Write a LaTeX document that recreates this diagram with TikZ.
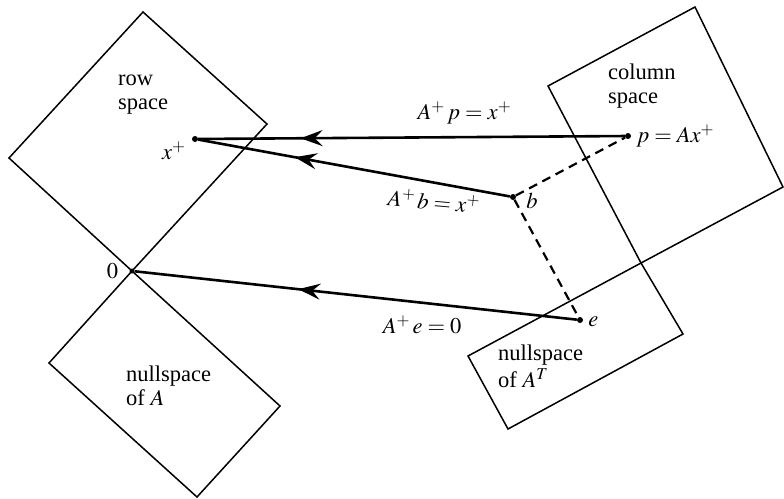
\documentclass[tikz,border=0pt]{standalone}
\usepackage{mathptmx}
\usepackage{fontspec}
\setmainfont{Liberation Serif}
\usetikzlibrary{arrows.meta,decorations.markings,positioning}
\tikzset{
  plane/.style={line width=1.5pt,line join=miter},
  mapline/.style={line width=2.6pt,postaction={decorate},
    decoration={markings,mark=at position #1 with {\arrow{Stealth[length=22pt,width=16pt,inset=8pt]}}}},
  perpline/.style={line width=2.2pt,dash pattern=on 9pt off 6pt},
  spot/.style={circle,fill,inner sep=0pt,minimum size=6pt},
  spacelabel/.style={align=left,anchor=west,inner sep=0pt,font=\fontsize{22.5}{24}\selectfont},
  lbl/.style={inner sep=2pt,font=\fontsize{22.5}{24}\selectfont}
}
\begin{document}
\begin{tikzpicture}[x=1pt,y=-1pt]
  \useasboundingbox (0,0) rectangle (784,498);
  % the four subspaces
  \coordinate (zero) at (132,271);
  \coordinate (meet) at (641,263);
  \draw[plane] (143,12) -- (267,124) -- (zero) -- (9,158) -- cycle;
  \draw[plane] (zero) -- (280,406) -- (197,497) -- (49,363) -- cycle;
  \draw[plane] (695,7) -- (783,187) -- (meet) -- (548,86) -- cycle;
  \draw[plane] (meet) -- (683,334) -- (508,429) -- (468,356) -- cycle;
  \node[spacelabel] (rowlbl) at (118,95) {row\\space};
  \node[spacelabel] (collbl) at (608,86) {column\\space};
  \node[spacelabel] (nulllbl) at (126,386) {nullspace\\of $A$};
  \node[spacelabel] (lnulllbl) at (498,366) {nullspace\\[3pt]of $A^T$};
  % vectors
  \node[spot] (xp) at (195,139) {};
  \node[spot] (p) at (628,136) {};
  \node[spot] (b) at (513,197) {};
  \node[spot] (e) at (580,320) {};
  \node[spot,minimum size=5pt] (o) at (zero) {};
  \node[lbl,below left=-2pt and 5pt of xp] (xplbl) {$x^+$};
  \node[lbl,right=3pt of p] (plbl) {$p = Ax^+$};
  \node[lbl,right=8pt of b,yshift=-4pt] (blbl) {$b$};
  \node[lbl,right=3pt of e,yshift=-2pt] (elbl) {$e$};
  \node[lbl,left=9pt of o] (olbl) {$0$};
  \draw[perpline] (b) -- (p);
  \draw[perpline] (b) -- (e);
  \draw[mapline=0.76] (p) -- node[lbl,above=10pt,pos=0.376] {$A^+\,p = x^+$} (xp);
  \draw[mapline=0.69] (b) -- node[lbl,below=6pt,pos=0.24,rotate=-5] {$A^+\,b = x^+$} (xp);
  \draw[mapline=0.63] (e) -- node[lbl,below=10pt,pos=0.35] {$A^+\,e = 0$} (o);
\end{tikzpicture}
\end{document}
